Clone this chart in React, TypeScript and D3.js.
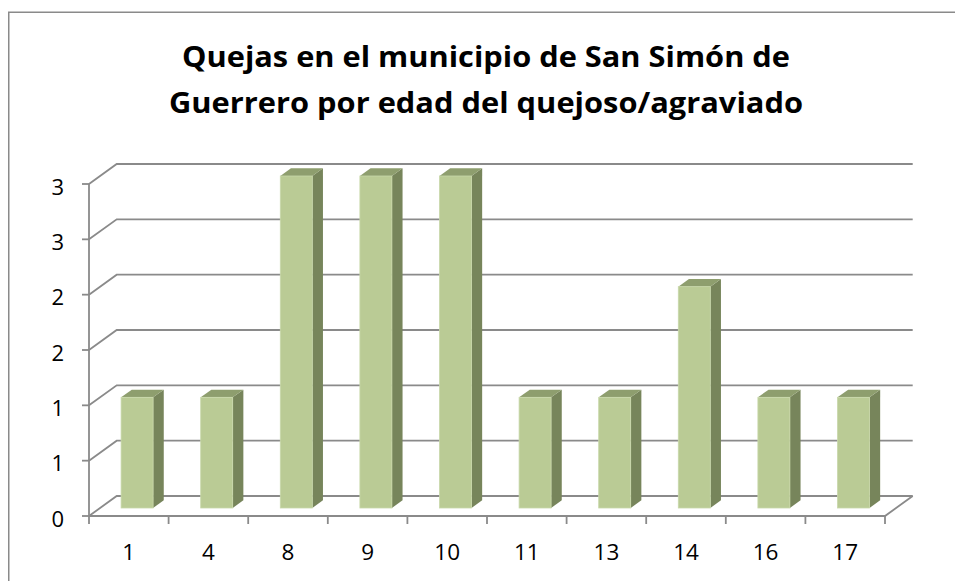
import React from "react";
import * as d3 from "d3";

const categories = ["1", "4", "8", "9", "10", "11", "13", "14", "16", "17"];
const values = [1, 1, 3, 3, 3, 1, 1, 2, 1, 1];
const yTickValues = [0, 0.5, 1, 1.5, 2, 2.5, 3];
const yTickLabels = ["0", "1", "1", "2", "2", "3", "3"];
const titleLines = [
  "Quejas en el municipio de San Simón de",
  "Guerrero por edad del quejoso/agraviado",
];

const W = 955;
const H = 581;
const X0 = 89;
const X1 = 885;
const Y0 = 516;
const Y1 = 184;
const DX = 27.7;
const DY = -20;
const GRID = "#8a8a8a";
const FONT = "'Open Sans', 'DejaVu Sans', sans-serif";

export default function App() {
  const x = d3.scaleBand<string>().domain(categories).range([X0, X1]).padding(0);
  const y = d3.scaleLinear().domain([0, 3]).range([Y0, Y1]);
  const bw = x.bandwidth();
  const d1 = 0.4;
  const d2 = 0.785;
  const barW = bw * 0.402;
  const gap = bw * 0.264;

  const ticksX = d3.range(categories.length + 1).map((i) => X0 + i * bw);

  return (
    <svg
      width={W}
      height={H}
      style={{ position: "absolute", left: 0, top: 0, background: "#fff" }}
      fontFamily={FONT}
    >
      <rect x={0} y={0} width={W} height={H} fill="#fff" />
      <rect x={8.75} y={12.25} width={1000} height={700} fill="none" stroke="#8a8a8a" strokeWidth={1.5} />

      {titleLines.map((t, i) => (
        <text
          key={i}
          x={486}
          y={67 + i * 46}
          textAnchor="middle"
          fontSize={29}
          fontWeight="bold"
          fill="#000"
          textLength={i === 0 ? 608 : 634}
          lengthAdjust="spacingAndGlyphs"
        >
          {t}
        </text>
      ))}

      {/* back wall gridlines */}
      {yTickValues.map((v, i) => (
        <path
          key={"g" + i}
          d={`M${X0},${y(v)} L${X0 + DX},${y(v) + DY} L${X1 + DX},${y(v) + DY}`}
          fill="none"
          stroke={GRID}
          strokeWidth={1.8}
        />
      ))}
      {/* floor */}
      <path
        d={`M${X0},${Y0} L${X1},${Y0} L${X1 + DX},${Y0 + DY}`}
        fill="none"
        stroke={GRID}
        strokeWidth={1.8}
      />

      {/* bars */}
      {categories.map((c, i) => {
        const v = values[i];
        const fx0 = (x(c) as number) + DX * d1 + gap;
        const fx1 = fx0 + barW;
        const yb = y(0) + DY * d1;
        const yt = y(v) + DY * d1;
        const sdx = DX * (d2 - d1);
        const sdy = DY * (d2 - d1);
        return (
          <g key={"b" + i}>
            <polygon
              points={`${fx1},${yb} ${fx1 + sdx},${yb + sdy} ${fx1 + sdx},${yt + sdy} ${fx1},${yt}`}
              fill="#77855B"
            />
            <polygon
              points={`${fx0},${yt} ${fx1},${yt} ${fx1 + sdx},${yt + sdy} ${fx0 + sdx},${yt + sdy}`}
              fill="#8E9E6E"
            />
            <rect x={fx0} y={yt} width={barW} height={yb - yt} fill="#BACB95" stroke="#C9D8AA" strokeWidth={0.8} />
          </g>
        );
      })}

      {/* front y axis */}
      <line x1={X0} y1={Y0} x2={X0} y2={Y1} stroke={GRID} strokeWidth={1.8} />
      {yTickValues.map((v, i) => (
        <g key={"yt" + i}>
          <line x1={X0 - 7} y1={y(v)} x2={X0} y2={y(v)} stroke={GRID} strokeWidth={1.8} />
          <text x={64} y={y(v) + 10.5} textAnchor="end" fontSize={22} fill="#000">
            {yTickLabels[i]}
          </text>
        </g>
      ))}

      {/* x ticks & labels */}
      {ticksX.map((tx, i) => (
        <line key={"xt" + i} x1={tx} y1={Y0} x2={tx} y2={Y0 + 8} stroke={GRID} strokeWidth={1.8} />
      ))}
      {categories.map((c, i) => (
        <text
          key={"xl" + i}
          x={(x(c) as number) + bw / 2}
          y={560}
          textAnchor="middle"
          fontSize={22.5}
          fill="#000"
        >
          {c}
        </text>
      ))}
    </svg>
  );
}
